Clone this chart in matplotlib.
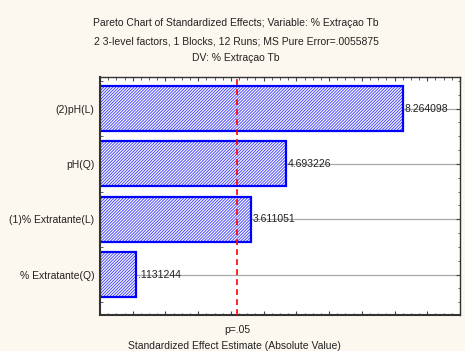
import matplotlib
matplotlib.use("Agg")
import matplotlib.pyplot as plt
from matplotlib.ticker import MultipleLocator

plt.rcParams['font.family'] = ['Liberation Sans', 'DejaVu Sans']
plt.rcParams['hatch.linewidth'] = 0.7

effects = ['(2)pH(L)', 'pH(Q)', '(1)% Extratante(L)', '% Extratante(Q)']
estimates = [8.264098, 4.693226, 3.611051, 0.1131244]
value_labels = ['8.264098', '4.693226', '3.611051', '.1131244']
p_crit = 3.182

bg = '#fdf8ef'
blue = '#0000ff'
x0 = -1.0
fs = 7.5

fig = plt.figure(figsize=(4.65, 3.51), dpi=100, facecolor=bg)
ax = fig.add_axes([100 / 465, 1 - 315 / 351, 360 / 465, 238 / 351])
ax.set_facecolor('white')

ypos = list(range(len(effects)))
widths = [v - x0 for v in estimates]
# hatched fill first, then a solid outline on top
ax.barh(ypos, widths, left=x0, height=0.81, color='white', edgecolor='#4848ff',
        hatch='/' * 11, linewidth=0, zorder=2)
ax.barh(ypos, widths, left=x0, height=0.81, fill=False, edgecolor=blue,
        linewidth=1.6, zorder=2)

# gray guide from each bar end to the right edge, with the value on it
for y, v, lab in zip(ypos, estimates, value_labels):
    ax.plot([v, 10], [y, y], color='#a8a8a8', lw=0.9, zorder=1)
    ax.text(v + 0.05, y, lab, fontsize=fs, va='center', ha='left', color='#222222', zorder=3)

ax.axvline(p_crit, color='#ff0000', lw=1.2, ls=(0, (3.5, 2.5)), zorder=3)

ax.set_xlim(x0, 10)
ax.set_ylim(3.73, -0.57)
ax.set_yticks(ypos)
ax.set_yticklabels(effects, fontsize=fs, color='#222222')
ax.yaxis.set_minor_locator(MultipleLocator(0.25))
ax.xaxis.set_major_locator(MultipleLocator(1))
ax.xaxis.set_minor_locator(MultipleLocator(0.25))
ax.set_xticklabels([])
ax.tick_params(which='both', direction='in', top=True, right=True, color='#444444')
ax.tick_params(which='major', length=3, pad=3)
ax.tick_params(which='minor', length=1.8)
ax.tick_params(axis='y', which='major', length=3, pad=4)
for s in ax.spines.values():
    s.set_color('#333333')
    s.set_linewidth(1.0)
ax.spines['left'].set_linewidth(1.5)
ax.spines['bottom'].set_linewidth(1.5)

ax.text(p_crit, -0.04, 'p=.05', transform=ax.get_xaxis_transform(),
        ha='center', va='top', fontsize=fs, color='#222222')
fig.text(0.5 + 2 / 465, 1 - 346 / 351, 'Standardized Effect Estimate (Absolute Value)',
         ha='center', va='center', fontsize=fs, color='#222222')

titles = ['Pareto Chart of Standardized Effects; Variable: % Extraçao Tb',
          '2 3-level factors, 1 Blocks, 12 Runs; MS Pure Error=.0055875',
          'DV: % Extraçao Tb']
for ty, t in zip([23, 41, 58], titles):
    fig.text(236 / 465, 1 - ty / 351, t, ha='center', va='center', fontsize=fs, color='#222222')

fig.savefig('out.png', dpi=100, facecolor=bg)
